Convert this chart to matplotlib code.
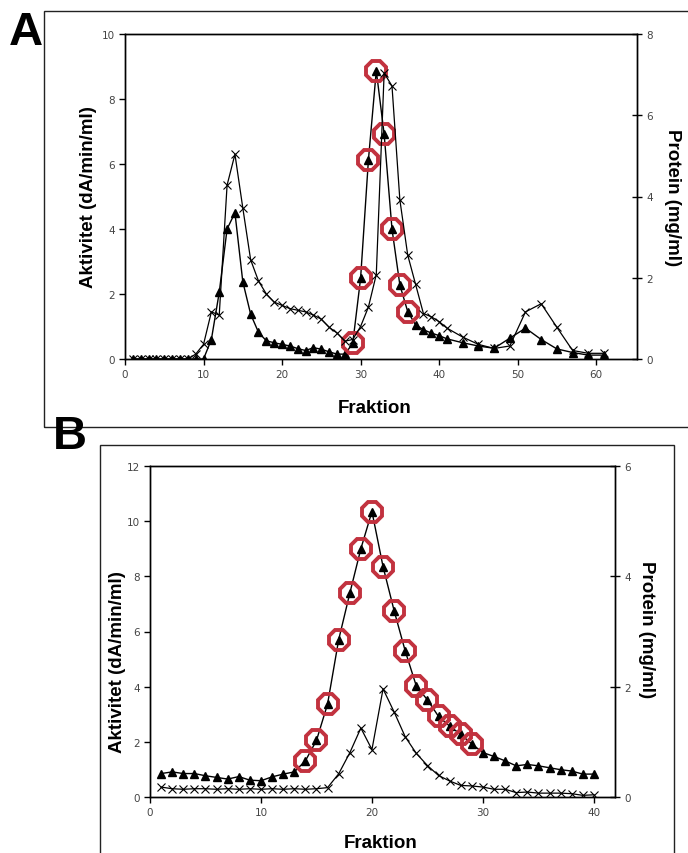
import matplotlib
matplotlib.use("Agg")
import matplotlib.pyplot as plt
from matplotlib.patches import Rectangle

# ---- data, panel A ----
frac_a = [1, 2, 3, 4, 5, 6, 7, 8, 9, 10, 11, 12, 13, 14, 15, 16, 17, 18, 19, 20,
          21, 22, 23, 24, 25, 26, 27, 28, 29, 30, 31, 32, 33, 34, 35, 36, 37, 38, 39, 40,
          41, 43, 45, 47, 49, 51, 53, 55, 57, 59, 61]
akt_a = [0, 0, 0, 0, 0, 0, 0, 0, 0, 0, 0.6, 2.05, 4.0, 4.5, 2.38, 1.38, 0.82, 0.56, 0.5, 0.45,
         0.4, 0.32, 0.26, 0.35, 0.3, 0.22, 0.15, 0.15, 0.48, 2.48, 6.13, 8.87, 6.92, 4.0, 2.28, 1.46, 1.05, 0.9, 0.8, 0.72,
         0.62, 0.5, 0.4, 0.33, 0.64, 0.95, 0.6, 0.31, 0.2, 0.12, 0.12]
prot_a = [0, 0, 0, 0, 0, 0, 0, 0, 0.12, 0.36, 1.16, 1.08, 4.28, 5.04, 3.72, 2.44, 1.92, 1.6, 1.4, 1.32,
          1.24, 1.2, 1.16, 1.08, 0.98, 0.78, 0.64, 0.44, 0.48, 0.8, 1.28, 2.08, 7.04, 6.72, 3.92, 2.56, 1.84, 1.12, 1.04, 0.92,
          0.76, 0.54, 0.36, 0.26, 0.32, 1.16, 1.36, 0.78, 0.21, 0.14, 0.14]
pool_a = [29, 30, 31, 32, 33, 34, 35, 36]

# ---- data, panel B ----
frac_b = [1, 2, 3, 4, 5, 6, 7, 8, 9, 10, 11, 12, 13, 14, 15, 16, 17, 18, 19, 20,
          21, 22, 23, 24, 25, 26, 27, 28, 29, 30, 31, 32, 33, 34, 35, 36, 37, 38, 39, 40]
akt_b = [0.85, 0.91, 0.85, 0.85, 0.77, 0.71, 0.65, 0.74, 0.61, 0.59, 0.73, 0.83, 0.91, 1.31, 2.05, 3.37, 5.7, 7.38, 9.0, 10.35,
         8.35, 6.75, 5.29, 4.02, 3.52, 2.92, 2.57, 2.27, 1.92, 1.61, 1.47, 1.31, 1.13, 1.18, 1.13, 1.06, 0.99, 0.94, 0.83, 0.83]
prot_b = [0.18, 0.15, 0.14, 0.15, 0.15, 0.14, 0.15, 0.14, 0.15, 0.14, 0.15, 0.14, 0.15, 0.14, 0.15, 0.17, 0.42, 0.8, 1.25, 0.86,
          1.96, 1.54, 1.09, 0.79, 0.57, 0.39, 0.29, 0.21, 0.2, 0.18, 0.14, 0.14, 0.08, 0.09, 0.07, 0.07, 0.07, 0.06, 0.03, 0.04]
pool_b = [14, 15, 16, 17, 18, 19, 20, 21, 22, 23, 24, 25, 26, 27, 28, 29]

RING = "#c2323f"
LAB = dict(family="Liberation Sans", fontweight="bold", fontsize=13.5)

fig = plt.figure(figsize=(6.88, 8.54), dpi=100)
W, H = 688.0, 854.0


def box(x0, y0, x1, y1):
    # frame around a panel, given in pixels from the top left
    fig.add_artist(Rectangle((x0 / W, 1 - y1 / H), (x1 - x0) / W, (y1 - y0) / H,
                             transform=fig.transFigure, fill=False, lw=1.0, ec="#222222"))


def panel(rect, frac, akt, prot, pool, ylim1, ylim2, xlim, xticks):
    ax = fig.add_axes(rect)
    ax2 = ax.twinx()
    ax.plot(frac, akt, color="black", lw=1.0, marker="^", ms=5.8, mfc="black", mec="black", zorder=3)
    ring_x = [f for f in frac if f in pool]
    ring_y = [a for f, a in zip(frac, akt) if f in pool]
    ax.plot(ring_x, ring_y, ls="none", marker="8", ms=16, mfc="none", mec=RING, mew=2.8, zorder=4)
    ax2.plot(frac, prot, color="black", lw=0.9, marker="x", ms=6, mew=0.8)
    ax.set_xlim(*xlim)
    ax.set_ylim(*ylim1)
    ax2.set_ylim(*ylim2)
    ax.set_xticks(xticks)
    ax.set_yticks(range(0, ylim1[1] + 1, 2))
    ax2.set_yticks(range(0, ylim2[1] + 1, 2))
    for a in (ax, ax2):
        for s in a.spines.values():
            s.set_linewidth(1.0)
        a.tick_params(labelsize=7.5, labelcolor="#444444", width=1.0)
    ax.tick_params(axis="y", direction="out", length=4)
    ax.tick_params(axis="x", direction="out", length=4)
    ax2.tick_params(axis="y", direction="inout", length=7)
    ax.set_xlabel("Fraktion", **LAB)
    ax.set_ylabel("Aktivitet (dA/min/ml)", va="center", ha="center", **LAB)
    ax2.set_ylabel("Protein (mg/ml)", rotation=270, va="center", ha="center", **LAB)
    return ax, ax2


# panel A
box(44, 12, 700, 428)
axA, axA2 = panel([125 / W, 1 - 360 / H, 512 / W, 325 / H], frac_a, akt_a, prot_a, pool_a,
                  (0, 10), (0, 8), (0, 65.2), [0, 10, 20, 30, 40, 50, 60])
axA.xaxis.set_label_coords(0.488, -0.148)
axA.xaxis.label.set_va("center")
axA.yaxis.set_label_coords(-0.072, 0.50)
axA2.yaxis.set_label_coords(1.07, 0.50)
fig.text(26 / W, 1 - 33 / H, "A", family="Liberation Sans", fontweight="bold", fontsize=34,
         ha="center", va="center")

# panel B
box(100, 446, 674, 870)
axB, axB2 = panel([150 / W, 1 - 798 / H, 465 / W, 331 / H], frac_b, akt_b, prot_b, pool_b,
                  (0, 12), (0, 6), (0, 41.9), [0, 10, 20, 30, 40])
axB.xaxis.set_label_coords(0.495, -0.136)
axB.xaxis.label.set_va("center")
axB.yaxis.set_label_coords(-0.069, 0.41)
axB2.yaxis.set_label_coords(1.067, 0.51)
fig.text(70 / W, 1 - 437 / H, "B", family="Liberation Sans", fontweight="bold", fontsize=34,
         ha="center", va="center")

fig.savefig("out.png", dpi=100, facecolor="white")
